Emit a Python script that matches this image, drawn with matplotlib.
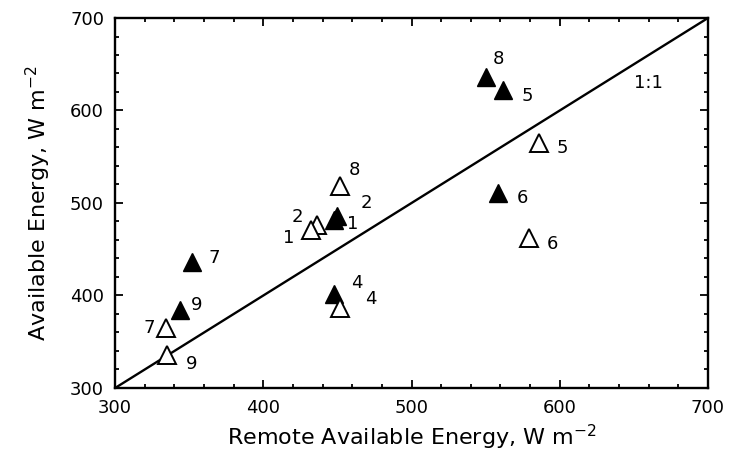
import matplotlib.pyplot as plt
from matplotlib.ticker import MultipleLocator

# filled triangles (one data set)
filled_ids = ["8", "5", "6", "1", "2", "4", "7", "9"]
filled_x = [550, 562, 558, 448, 450, 448, 352, 344]
filled_y = [636, 622, 511, 482, 486, 402, 436, 384]

# open triangles (the other data set)
open_ids = ["5", "6", "8", "2", "1", "4", "7", "9"]
open_x = [586, 579, 452, 436, 432, 452, 334, 335]
open_y = [565, 462, 518, 476, 471, 386, 365, 336]

# label offsets in points (dx, dy)
filled_off = {"8": (9, 13), "5": (17, -4), "6": (18, -4), "1": (13, -3),
              "2": (21, 9), "4": (16, 8), "7": (16, 3), "9": (12, 4)}
open_off = {"5": (17, -4), "6": (17, -4), "8": (10, 12), "2": (-14, 6),
            "1": (-16, -6), "4": (22, 7), "7": (-12, 0), "9": (18, -7)}

fig = plt.figure(figsize=(7.38, 4.70), dpi=100)
ax = fig.add_axes([0.156, 0.1745, 0.8033, 0.7872])

ax.plot([300, 700], [300, 700], color="black", lw=1.7)
ax.plot(filled_x, filled_y, "^", color="black", ms=12.5, ls="none")
ax.plot(open_x, open_y, "^", mfc="white", mec="black", mew=1.4, ms=12.5, ls="none")

for ids, xs, ys, off in [(filled_ids, filled_x, filled_y, filled_off),
                         (open_ids, open_x, open_y, open_off)]:
    for lab, x, y in zip(ids, xs, ys):
        ax.annotate(lab, (x, y), xytext=off[lab], textcoords="offset points",
                    ha="center", va="center", fontsize=13)

ax.text(660, 630, "1:1", ha="center", va="center", fontsize=13)

ax.set_xlim(300, 700)
ax.set_ylim(300, 700)
ax.xaxis.set_major_locator(MultipleLocator(100))
ax.yaxis.set_major_locator(MultipleLocator(100))
ax.xaxis.set_minor_locator(MultipleLocator(20))
ax.yaxis.set_minor_locator(MultipleLocator(20))
ax.tick_params(which="both", direction="in", top=True, right=True, width=1.3)
ax.tick_params(which="major", length=6, labelsize=13, pad=8)
ax.tick_params(which="minor", length=3)
for s in ax.spines.values():
    s.set_linewidth(1.7)

ax.set_xlabel("Remote Available Energy, W m$^{-2}$", fontsize=16, labelpad=4)
ax.set_ylabel("Available Energy, W m$^{-2}$", fontsize=16, labelpad=12)

fig.savefig("out.png", dpi=100)
